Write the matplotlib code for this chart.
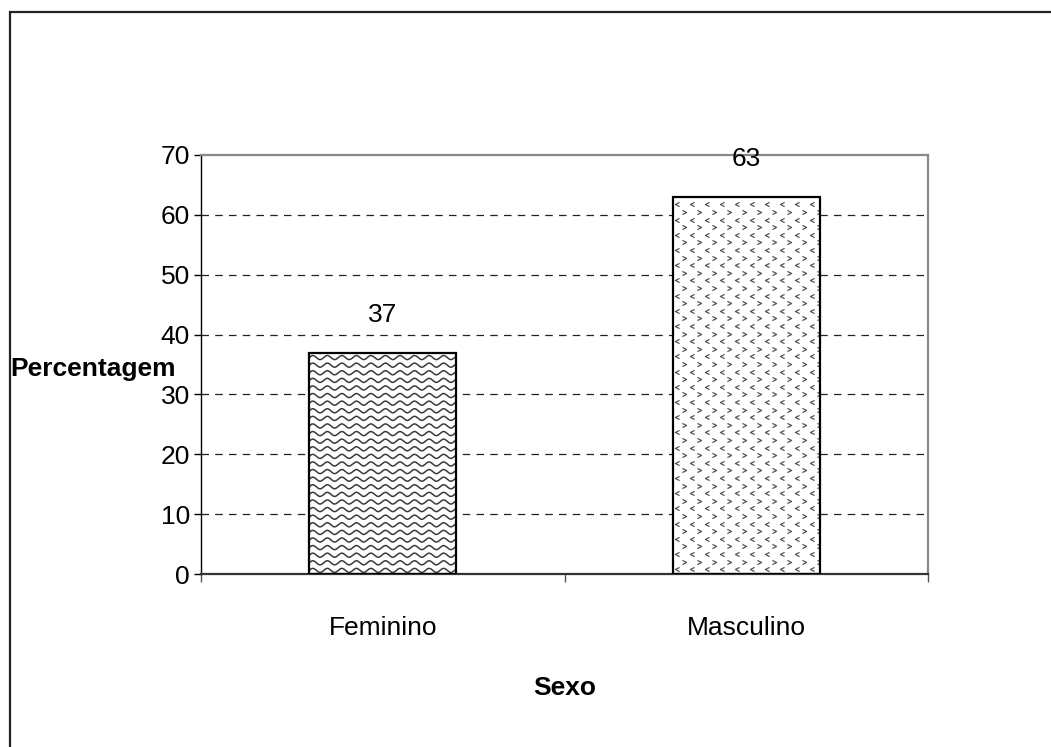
import numpy as np
import matplotlib
matplotlib.use("Agg")
import matplotlib.pyplot as plt
from matplotlib.path import Path
from matplotlib.patches import Rectangle

plt.rcParams["font.family"] = ["Liberation Sans Narrow", "Liberation Sans", "DejaVu Sans"]

categorias = ["Feminino", "Masculino"]
percentagem = [37, 63]
y_ticks = [0, 10, 20, 30, 40, 50, 60, 70]

W, H = 1051, 747
fig = plt.figure(figsize=(W / 100, H / 100), dpi=100)

# moldura externa do grafico (corta fora da imagem a direita e embaixo)
fig.patches.append(Rectangle((10 / W, -0.1), 1.2, 1 - 12 / H + 0.1,
                             transform=fig.transFigure, fill=False,
                             edgecolor="#222222", linewidth=1.6, zorder=0))

ax = fig.add_axes([201 / W, 1 - 574 / H, (928 - 201) / W, (574 - 155) / H])
x = np.arange(len(categorias))
bw = 0.405
# fundo branco das barras, textura por cima e contorno no topo
bars = ax.bar(x, percentagem, width=bw, facecolor="white", edgecolor="none",
              zorder=2)
ax.bar(x, percentagem, width=bw, fill=False, edgecolor="black",
       linewidth=1.6, zorder=3)

# textura ondulada na primeira barra
b0 = bars[0]
xs = np.linspace(b0.get_x() - 0.02, b0.get_x() + bw + 0.02, 600)
period = 0.040
for yy in np.arange(0.6, percentagem[0] + 1.0, 1.27):
    ln, = ax.plot(xs, yy + 0.34 * np.sin(2 * np.pi * (xs - b0.get_x()) / period),
                  color="#3a3a3a", lw=1.1, zorder=2.5)
    ln.set_clip_path(b0)

# textura de setas < > na segunda barra
b1 = bars[1]
chev_l = Path([(1, 1), (-1, 0), (1, -1)], [Path.MOVETO, Path.LINETO, Path.LINETO])
chev_r = Path([(-1, 1), (1, 0), (-1, -1)], [Path.MOVETO, Path.LINETO, Path.LINETO])
dx = 15 * 2 / 727
dy = 7.6 * 70 / 419
rows = np.arange(0.8, percentagem[1], dy)
for k, yy in enumerate(rows):
    off = 0.0 if k % 2 == 0 else 0.45 * dx
    xx = np.arange(b1.get_x() + 0.3 * dx + off, b1.get_x() + bw, dx)
    ln, = ax.plot(xx, np.full_like(xx, yy), linestyle="none",
                  marker=chev_l if k % 2 == 0 else chev_r, markersize=3,
                  markerfacecolor="none", markeredgecolor="#555555", mew=0.9,
                  zorder=2.5)
    ln.set_clip_path(b1)

# rotulos de valor
for bar, v in zip(bars, percentagem):
    ax.annotate(f"{v}", (bar.get_x() + bw / 2, v), xytext=(0, 27),
                textcoords="offset points", ha="center", va="center",
                fontsize=19)

ax.set_xlim(-0.5, 1.5)
ax.set_ylim(0, 70)
ax.set_yticks(y_ticks)
ax.set_yticklabels([str(t) for t in y_ticks], fontsize=19)
ax.tick_params(axis="y", length=5, width=1, pad=3, color="black")

ax.set_xticks([-0.5, 0.5, 1.5])
ax.set_xticklabels([])
ax.tick_params(axis="x", which="major", length=6, width=1, color="#555555", direction="out")
ax.set_xticks(x, minor=True)
ax.set_xticklabels(categorias, minor=True, fontsize=19)
ax.tick_params(axis="x", which="minor", length=0, pad=30)

for t in y_ticks[1:-1]:
    ax.axhline(t, color="#222222", lw=0.9, dashes=(6, 5), zorder=1)

ax.spines["left"].set_color("black")
ax.spines["left"].set_linewidth(1.0)
ax.spines["bottom"].set_color("#333333")
ax.spines["bottom"].set_linewidth(1.6)
ax.spines["top"].set_color("#888888")
ax.spines["top"].set_linewidth(1.6)
ax.spines["right"].set_color("#888888")
ax.spines["right"].set_linewidth(1.6)

fig.text(10 / W, 1 - 369 / H, "Percentagem", fontsize=19, fontweight="bold",
         ha="left", va="center")
fig.text(565 / W, 1 - 688 / H, "Sexo", fontsize=19, fontweight="bold",
         ha="center", va="center")

fig.savefig("out.png", dpi=100)
